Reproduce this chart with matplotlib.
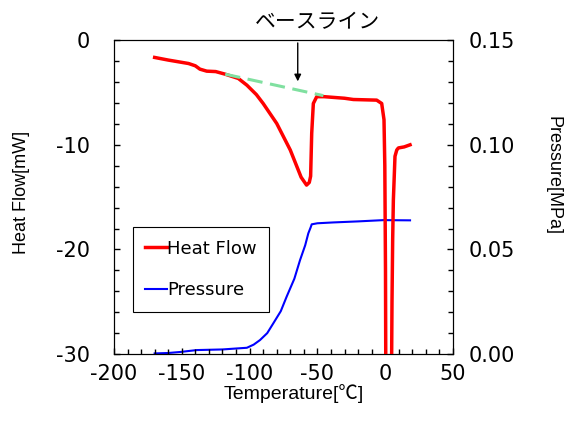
import numpy as np
import matplotlib
matplotlib.use('Agg')
import matplotlib.pyplot as plt
from matplotlib.ticker import MultipleLocator

plt.rcParams['font.family'] = ['DejaVu Sans', 'Noto Sans CJK JP']
plt.rcParams['axes.unicode_minus'] = False

# heat flow curve (temperature degC, heat flow mW)
hf_t = [-170, -160, -145, -140, -136.6, -131.6, -125, -118, -108.3, -102, -95, -90, -80,
        -70, -62, -58, -56, -55, -54.2, -53, -50.5, -45, -38, -30, -23.5, -15, -6.3, -2.6,
        -0.9, -0.3, 0.2, 0.5, 4.5, 5.0, 5.5, 6.0, 7.2, 8.5, 9.7, 14, 18.3]
hf_q = [-1.65, -1.9, -2.23, -2.45, -2.77, -2.96, -3.0, -3.25, -3.66, -4.3, -5.2, -6.05, -7.96,
        -10.5, -13.1, -13.85, -13.6, -13.0, -8.9, -6.05, -5.4, -5.4, -5.47, -5.55, -5.67, -5.7, -5.73, -6.05,
        -7.6, -12, -22, -35, -35, -25, -19, -15.3, -11.1, -10.5, -10.3, -10.2, -10.0]

# pressure curve (temperature degC, pressure MPa)
pr_t = [-170, -160, -151, -139, -120, -102, -97, -92.3, -87, -82.5, -77, -72.7, -67, -62.8,
        -59, -56.7, -55, -54.2, -50, -38.3, -20, -1.4, 18.3]
pr_p = [0.0003, 0.0005, 0.001, 0.0019, 0.0022, 0.003, 0.0045, 0.0067, 0.0100, 0.0147, 0.0205,
        0.0274, 0.0360, 0.0449, 0.0520, 0.0577, 0.0605, 0.062, 0.0625, 0.0629, 0.0634, 0.064, 0.0639]

# baseline
base_t = [-118, -45.6]
base_q = [-3.25, -5.3]

fig = plt.figure(figsize=(5.67, 4.23), dpi=100)
ax = fig.add_axes([0.201, 0.163, 0.598, 0.742])
ax2 = ax.twinx()

l1, = ax.plot(hf_t, hf_q, color='#ff0000', lw=2.5, label='Heat Flow', zorder=3)
ax.plot(base_t, base_q, color='#80e0a0', lw=2.2, dashes=(5, 2.5), zorder=4)
l2, = ax2.plot(pr_t, pr_p, color='#0000ff', lw=1.5, label='Pressure')

ax.set_zorder(ax2.get_zorder() + 1)
ax.patch.set_visible(False)

ax.set_xlim(-200, 50)
ax.set_ylim(-30, 0)
ax2.set_ylim(0, 0.15)
ax.xaxis.set_major_locator(MultipleLocator(50))
ax.xaxis.set_minor_locator(MultipleLocator(10))
ax.yaxis.set_major_locator(MultipleLocator(10))
ax.yaxis.set_minor_locator(MultipleLocator(2))
ax2.yaxis.set_major_locator(MultipleLocator(0.05))
ax2.yaxis.set_minor_locator(MultipleLocator(0.01))
ax2.set_yticks([0, 0.05, 0.10, 0.15])
ax2.set_yticklabels(['0.00', '0.05', '0.10', '0.15'])

for a in (ax, ax2):
    a.tick_params(which='both', direction='in', labelsize=15, width=1)
    a.tick_params(which='major', length=4)
    a.tick_params(which='minor', length=3.5)
ax.tick_params(axis='x', pad=7)
ax.tick_params(axis='y', pad=17)
ax2.tick_params(axis='y', pad=11)

lab_font = ['Liberation Sans', 'Noto Sans CJK JP']
ax.set_xlabel('Temperature[℃]', fontsize=14, family=lab_font)
ax.set_ylabel('Heat Flow[mW]', fontsize=13, family=lab_font)
ax2.set_ylabel('Pressure[MPa]', fontsize=13, family=lab_font, rotation=-90)
ax.xaxis.set_label_coords(0.531, -0.127)
ax.xaxis.label.set_va('center')
ax.yaxis.set_label_coords(-0.274, 0.516)
ax.yaxis.label.set_va('center')
ax2.yaxis.set_label_coords(1.295, 0.57)
ax2.yaxis.label.set_va('center')
ax2.yaxis.label.set_ha('center')

ax.annotate('', xy=(-64.5, -4.2), xytext=(-64.5, 0),
            arrowprops=dict(arrowstyle='-|>', color='black', lw=1, mutation_scale=10),
            annotation_clip=False)
ax.text(-49.6, 1.7, 'ベースライン', fontsize=15, family='Noto Sans CJK JP',
        ha='center', va='center', clip_on=False)

leg = ax.legend([l1, l2], ['Heat Flow', 'Pressure'], loc='lower left',
                bbox_to_anchor=(0.055, 0.135), fontsize=13, handlelength=1.2,
                handletextpad=0.0, labelspacing=1.3, borderpad=0.7, borderaxespad=0,
                fancybox=False, framealpha=1, edgecolor='black')
leg.get_frame().set_linewidth(0.8)

fig.savefig('out.png', dpi=100)
